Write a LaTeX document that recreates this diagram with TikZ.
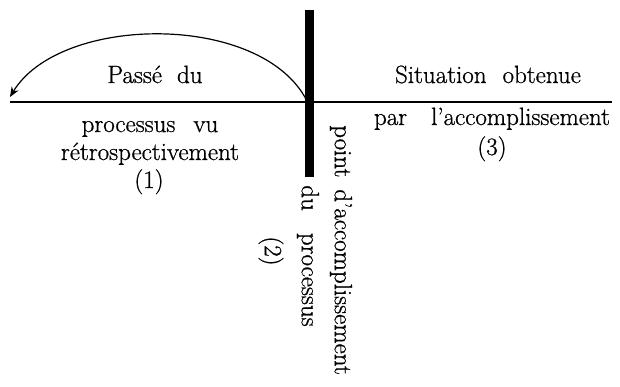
\documentclass[tikz,border=0pt]{standalone}
\usepackage{fontspec}
\setmainfont{Latin Modern Roman}[BoldFont={Latin Modern Roman},BoldFeatures={FakeBold=0.8}]
\usetikzlibrary{arrows.meta}
\begin{document}
\begin{tikzpicture}[x=1pt,y=-1pt,
  lbl/.style={inner sep=0pt,font=\fontsize{25}{30}\selectfont\bfseries,anchor=base},
  vlbl/.style={inner sep=0pt,font=\fontsize{25}{30}\selectfont\bfseries,rotate=-90,anchor=center},
  axis/.style={line width=1.3pt},
  arc/.style={line width=1.2pt,-{Stealth[length=10pt,width=8pt]}}]
\useasboundingbox (0,0) rectangle (620,386);
% time axis
\coordinate (L) at (10,102);
\coordinate (R) at (612,102);
\draw[axis] (L) -- (R);
% accomplishment bar
\node (bar) [fill=black,inner sep=0pt,minimum width=9pt,minimum height=167pt,anchor=north] at (309.5,10) {};
% retrospective arc
\coordinate (A0) at (307,101);
\coordinate (A1) at (10,97);
\draw[arc] (A0) .. controls (262,12) and (60,14) .. (A1);
% left labels
\node (t1) [lbl] at (155,83) {Passé\hspace{15pt}du};
\node (t2) [lbl] at (150,132) {processus\hspace{18pt}vu};
\node (t3) [lbl] at (150,160) {rétrospectivement};
\node (t4) [lbl] at (149,188) {(1)};
% right labels
\node (t5) [lbl] at (488,83) {Situation\hspace{16pt}obtenue};
\node (t6) [lbl] at (492,125) {par\hspace{24pt}l'accomplissement};
\node (t7) [lbl] at (492,155) {(3)};
% vertical labels
\node (v1) [vlbl] at (341,250) {point\hspace{12pt}d'accomplissement};
\node (v2) [vlbl] at (308,256) {du\hspace{22pt}processus};
\node (v3) [vlbl] at (271,251) {(2)};
\end{tikzpicture}
\end{document}
